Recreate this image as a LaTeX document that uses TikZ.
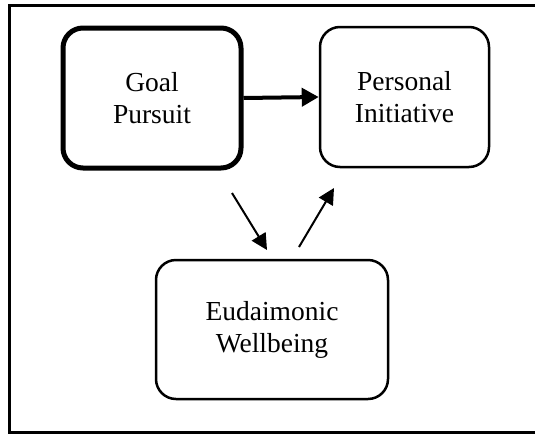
\documentclass[tikz,border=0pt]{standalone}
\usepackage{fontspec}
\setmainfont{Liberation Serif}
\usepackage{tikz}
\usetikzlibrary{calc,shapes,arrows.meta}

\tikzset{
	box/.style={draw,rounded corners=20pt,align=center,inner sep=0pt,line width=2.5pt,font=\fontsize{27.5}{32}\selectfont},
	arr/.style={-{Triangle[length=16pt,width=16pt]},line width=2pt}
}

\begin{document}
\begin{tikzpicture}[x=1pt,y=-1pt]
		\useasboundingbox (0,0) rectangle (535,434);
		\draw [line width=3pt] (9,5.5) rectangle (540,432.5);
		\node [box,line width=5pt,minimum width=178pt,minimum height=140pt] (goal) at (152,98) {Goal\\Pursuit};
		\node [box,minimum width=169pt,minimum height=140pt] (init) at (404.5,97) {Personal\\Initiative};
		\node [box,minimum width=232pt,minimum height=139pt] (well) at (272,329.5) {Eudaimonic\\Wellbeing};
		\coordinate (a1) at (232,193);
		\coordinate (a2) at (267,250);
		\coordinate (b1) at (299,247);
		\coordinate (b2) at (334,188);
		\draw [arr,line width=4pt,-{Triangle[length=17pt,width=18pt]}] (goal.east) to (init.west);
		\draw [arr] (a1) to (a2);
		\draw [arr] (b1) to (b2);
\end{tikzpicture}
\end{document}
